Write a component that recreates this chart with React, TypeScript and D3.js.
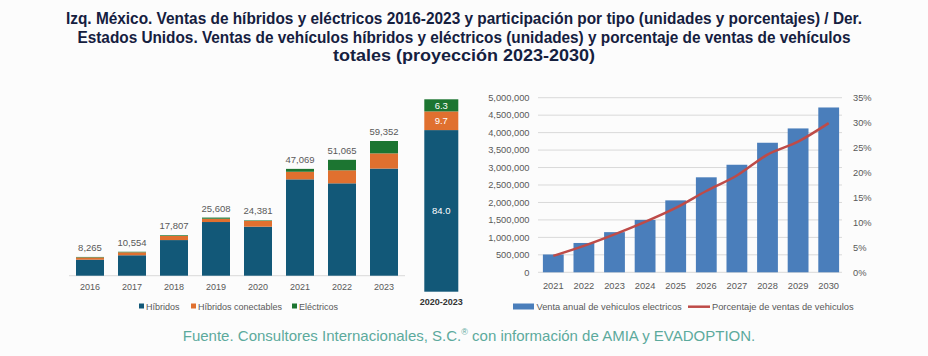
import React from "react";
import * as d3 from "d3";

// ---- Left chart data (Mexico) ----
const mxYears = ["2016", "2017", "2018", "2019", "2020", "2021", "2022", "2023"];
const mxHibridos = [7050, 9000, 15700, 23650, 21600, 42450, 40700, 47200];
const mxConectables = [1000, 1300, 1800, 1450, 2550, 3350, 5730, 6700];
const mxElectricos = [215, 254, 307, 508, 231, 1269, 4635, 5452];
const mxTotals = [8265, 10554, 17807, 25608, 24381, 47069, 51065, 59352];
const mxShareLabel = "2020-2023";
const mxShare = [84.0, 9.7, 6.3];
const mxSeries = ["Híbridos", "Híbridos conectables", "Eléctricos"];

// ---- Right chart data (USA) ----
const usYears = ["2021", "2022", "2023", "2024", "2025", "2026", "2027", "2028", "2029", "2030"];
const usVentas = [510000, 840000, 1150000, 1500000, 2060000, 2720000, 3080000, 3710000, 4120000, 4720000];
const usPct = [3.3, 5.3, 7.6, 10.1, 12.9, 16.3, 19.4, 23.6, 26.2, 29.9];
const usLeftTicks = [0, 500000, 1000000, 1500000, 2000000, 2500000, 3000000, 3500000, 4000000, 4500000, 5000000];
const usRightTicks = [0, 5, 10, 15, 20, 25, 30, 35];
const usLegend = ["Venta anual de vehiculos electricos", "Porcentaje de ventas de vehiculos"];

const titleLines = [
  "Izq. México. Ventas de híbridos y eléctricos 2016-2023 y participación por tipo (unidades y porcentajes) / Der.",
  "Estados Unidos. Ventas de vehículos híbridos y eléctricos (unidades) y porcentaje de ventas de vehículos",
  "totales (proyección 2023-2030)",
];
const sourceA = "Fuente. Consultores Internacionales, S.C.";
const sourceReg = "®";
const sourceB = " con información de AMIA y EVADOPTION.";

const COLORS = ["#125878", "#E0702F", "#1C7531"];
const BAR_BLUE = "#4A7EBB";
const LINE_RED = "#BE4B48";
const GRAY = "#595959";

export default function App() {
  // Left chart scales
  const xL = d3.scaleBand<string>().domain(mxYears).range([69, 405]).paddingInner(1 / 3).paddingOuter(1 / 6);
  const yL = d3.scaleLinear().domain([0, 59352]).range([275.7, 141]);
  const stackData = mxYears.map((y, i) => ({
    year: y,
    h: mxHibridos[i],
    c: mxConectables[i],
    e: mxElectricos[i],
  }));
  const stack = d3.stack<any>().keys(["h", "c", "e"])(stackData);

  // Share bar
  const yS = d3.scaleLinear().domain([0, 100]).range([291.7, 99.3]);
  const shareCum = [0, mxShare[0], mxShare[0] + mxShare[1], 100];

  // Right chart scales
  const xR = d3.scaleBand<string>().domain(usYears).range([538, 844]).paddingInner(0.32).paddingOuter(0.16);
  const yR = d3.scaleLinear().domain([0, 5000000]).range([272.3, 97.7]);
  const yP = d3.scaleLinear().domain([0, 35]).range([272.3, 97.7]);
  const line = d3
    .line<number>()
    .x((_, i) => (xR(usYears[i]) as number) + xR.bandwidth() / 2)
    .y((d) => yP(d))
    .curve(d3.curveMonotoneX);
  const fmt = d3.format(",");

  const font = "'Liberation Sans', Arial, sans-serif";

  return (
    <svg width={928} height={356} style={{ position: "absolute", left: 0, top: 0, background: "#fcfcfc" }} fontFamily={font}>
      <rect x={0} y={0} width={928} height={356} fill="#fcfcfc" />
      {/* Title */}
      {titleLines.map((t, i) => (
        <text
          key={i}
          x={464}
          y={24 + i * 18.5}
          textAnchor="middle"
          fontSize={16}
          fontWeight="bold"
          fill="#15203f"
          textLength={[796, 773, 262][i]}
          lengthAdjust="spacingAndGlyphs"
        >
          {t}
        </text>
      ))}

      {/* Left chart */}
      <line x1={69} x2={405} y1={yL(0)} y2={yL(0)} stroke="#d9d9d9" strokeWidth={1} />
      {stack.map((s, si) => (
        <g key={si} fill={COLORS[si]}>
          {s.map((d: any, i: number) => (
            <rect
              key={i}
              x={xL(mxYears[i])}
              width={xL.bandwidth()}
              y={yL(d[1])}
              height={Math.max(0, yL(d[0]) - yL(d[1]))}
            />
          ))}
        </g>
      ))}
      {mxYears.map((y, i) => (
        <text key={y} x={(xL(y) as number) + xL.bandwidth() / 2} y={yL(mxTotals[i]) - 6} textAnchor="middle" fontSize={9.5} fill={GRAY}>
          {fmt(mxTotals[i])}
        </text>
      ))}
      {mxYears.map((y) => (
        <text key={y} x={(xL(y) as number) + xL.bandwidth() / 2} y={290} textAnchor="middle" fontSize={9} fill={GRAY}>
          {y}
        </text>
      ))}
      {/* Legend left */}
      {mxSeries.map((s, i) => {
        const lx = [139, 191, 292][i];
        return (
          <g key={s}>
            <rect x={lx} y={303.5} width={5} height={5} fill={COLORS[i]} />
            <text x={lx + 7} y={309.5} fontSize={9} fill={GRAY}>
              {s}
            </text>
          </g>
        );
      })}

      {/* Share bar */}
      {mxShare.map((v, i) => (
        <g key={i}>
          <rect x={424.3} width={34} y={yS(shareCum[i + 1])} height={yS(shareCum[i]) - yS(shareCum[i + 1])} fill={COLORS[i]} />
          <text
            x={441.3}
            y={(yS(shareCum[i + 1]) + yS(shareCum[i])) / 2 + 3.5}
            textAnchor="middle"
            fontSize={9.5}
            fill="#ffffff"
          >
            {v.toFixed(1)}
          </text>
        </g>
      ))}
      <text x={441.3} y={305} textAnchor="middle" fontSize={9} fontWeight="bold" fill="#333">
        {mxShareLabel}
      </text>

      {/* Right chart */}
      {usLeftTicks.map((t) => (
        <g key={t}>
          <line x1={538} x2={842} y1={yR(t)} y2={yR(t)} stroke="#d9d9d9" strokeWidth={1} />
          <text x={529.5} y={yR(t) + 3.3} textAnchor="end" fontSize={9.3} fill={GRAY}>
            {fmt(t)}
          </text>
        </g>
      ))}
      {usRightTicks.map((t) => (
        <text key={t} x={853} y={yP(t) + 3.3} textAnchor="start" fontSize={9.3} fill={GRAY}>
          {t + "%"}
        </text>
      ))}
      {usVentas.map((v, i) => (
        <rect key={i} x={xR(usYears[i])} width={xR.bandwidth()} y={yR(v)} height={yR(0) - yR(v)} fill={BAR_BLUE} />
      ))}
      <path d={line(usPct) as string} fill="none" stroke={LINE_RED} strokeWidth={2.5} />
      {usYears.map((y) => (
        <text key={y} x={(xR(y) as number) + xR.bandwidth() / 2} y={289} textAnchor="middle" fontSize={9.3} fill={GRAY}>
          {y}
        </text>
      ))}
      {/* Legend right */}
      <rect x={513} y={303.5} width={21} height={6} fill={BAR_BLUE} />
      <text x={536.5} y={310} fontSize={9.3} fill={GRAY}>
        {usLegend[0]}
      </text>
      <line x1={688} x2={710} y1={306.7} y2={306.7} stroke={LINE_RED} strokeWidth={2.5} />
      <text x={712} y={310} fontSize={9.3} fill={GRAY}>
        {usLegend[1]}
      </text>

      {/* Source */}
      <text x={469} y={341} textAnchor="middle" fontSize={15} fill="#5CAA9C">
        {sourceA}
        <tspan fontSize={9} dy={-6}>{sourceReg}</tspan>
        <tspan dy={6}>{sourceB}</tspan>
      </text>
    </svg>
  );
}
